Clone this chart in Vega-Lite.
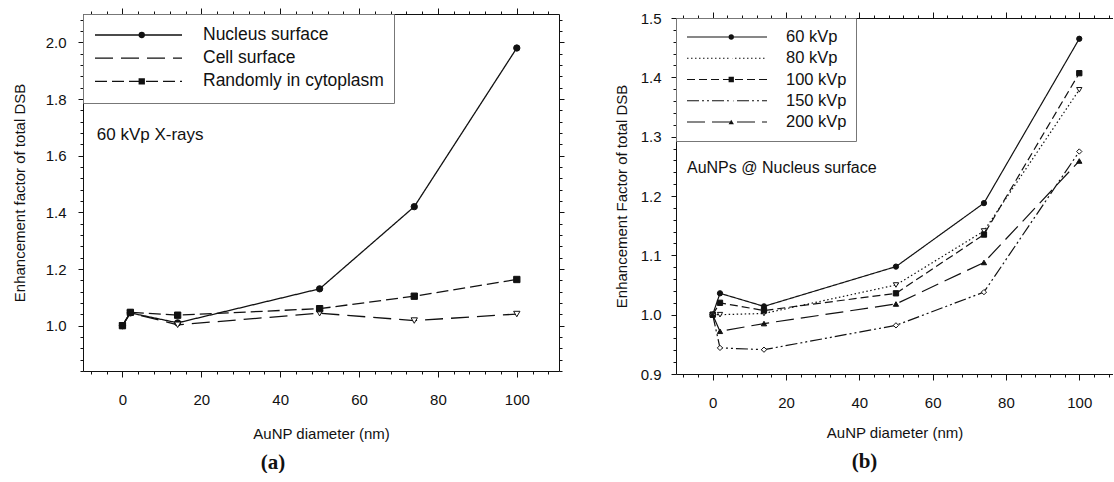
{
  "$schema": "https://vega.github.io/schema/vega-lite/v6.json",
  "background": "white",
  "padding": {"left": 12, "top": 7, "right": 0, "bottom": 0},
  "spacing": 49,
  "resolve": {
    "scale": {"strokeDash": "independent", "shape": "independent", "fill": "independent"},
    "legend": {"strokeDash": "independent", "shape": "independent", "fill": "independent"}
  },
  "config": {
    "view": {"stroke": null},
    "font": "Liberation Sans",
    "axis": {"grid": false, "domainColor": "#111", "tickColor": "#111", "domainWidth": 1, "tickWidth": 1, "labelColor": "#111", "titleColor": "#111", "labelFontSize": 15, "titleFontSize": 15, "titleFontWeight": "normal", "labelFont": "Liberation Sans", "titleFont": "Liberation Sans"},
    "legend": {"labelLimit": 400},
    "title": {"font": "Liberation Serif", "fontSize": 21, "fontWeight": "bold", "color": "#111"}
  },
  "datasets": {
    "a": [
      {"series": "Nucleus surface", "x": 0, "y": 1.0},
      {"series": "Nucleus surface", "x": 2, "y": 1.045},
      {"series": "Nucleus surface", "x": 14, "y": 1.01},
      {"series": "Nucleus surface", "x": 50, "y": 1.13},
      {"series": "Nucleus surface", "x": 74, "y": 1.42},
      {"series": "Nucleus surface", "x": 100, "y": 1.98},
      {"series": "Cell surface", "x": 0, "y": 1.0},
      {"series": "Cell surface", "x": 2, "y": 1.045},
      {"series": "Cell surface", "x": 14, "y": 1.003},
      {"series": "Cell surface", "x": 50, "y": 1.044},
      {"series": "Cell surface", "x": 74, "y": 1.018},
      {"series": "Cell surface", "x": 100, "y": 1.041},
      {"series": "Randomly in cytoplasm", "x": 0, "y": 1.0},
      {"series": "Randomly in cytoplasm", "x": 2, "y": 1.047},
      {"series": "Randomly in cytoplasm", "x": 14, "y": 1.037},
      {"series": "Randomly in cytoplasm", "x": 50, "y": 1.06},
      {"series": "Randomly in cytoplasm", "x": 74, "y": 1.104},
      {"series": "Randomly in cytoplasm", "x": 100, "y": 1.163}
    ],
    "b": [
      {"series": "60 kVp", "x": 0, "y": 1.0},
      {"series": "60 kVp", "x": 2, "y": 1.036},
      {"series": "60 kVp", "x": 14, "y": 1.014},
      {"series": "60 kVp", "x": 50, "y": 1.081},
      {"series": "60 kVp", "x": 74, "y": 1.188},
      {"series": "60 kVp", "x": 100, "y": 1.465},
      {"series": "80 kVp", "x": 0, "y": 1.0},
      {"series": "80 kVp", "x": 2, "y": 1.0},
      {"series": "80 kVp", "x": 14, "y": 1.002},
      {"series": "80 kVp", "x": 50, "y": 1.05},
      {"series": "80 kVp", "x": 74, "y": 1.141},
      {"series": "80 kVp", "x": 100, "y": 1.379},
      {"series": "100 kVp", "x": 0, "y": 1.0},
      {"series": "100 kVp", "x": 2, "y": 1.02},
      {"series": "100 kVp", "x": 14, "y": 1.007},
      {"series": "100 kVp", "x": 50, "y": 1.036},
      {"series": "100 kVp", "x": 74, "y": 1.135},
      {"series": "100 kVp", "x": 100, "y": 1.407},
      {"series": "150 kVp", "x": 0, "y": 1.0},
      {"series": "150 kVp", "x": 2, "y": 0.944},
      {"series": "150 kVp", "x": 14, "y": 0.941},
      {"series": "150 kVp", "x": 50, "y": 0.982},
      {"series": "150 kVp", "x": 74, "y": 1.038},
      {"series": "150 kVp", "x": 100, "y": 1.275},
      {"series": "200 kVp", "x": 0, "y": 1.0},
      {"series": "200 kVp", "x": 2, "y": 0.972},
      {"series": "200 kVp", "x": 14, "y": 0.985},
      {"series": "200 kVp", "x": 50, "y": 1.018},
      {"series": "200 kVp", "x": 74, "y": 1.088},
      {"series": "200 kVp", "x": 100, "y": 1.259}
    ],
    "notesA": [{"x": -6.5, "y": 1.673, "text": "60 kVp X-rays"}],
    "notesB": [{"x": -7.0, "y": 1.247, "text": "AuNPs @ Nucleus surface"}],
    "spacer": [{"k": 1}]
  },
  "hconcat": [
    {
      "width": 476,
      "height": 357,
      "title": {"text": "(a)", "orient": "bottom", "dx": -48, "offset": 11},
      "resolve": {"axis": {"x": "independent", "y": "independent"}},
      "layer": [
        {
          "data": {"name": "a"},
          "mark": {"type": "line", "strokeWidth": 1.3, "color": "#111"},
          "encoding": {
            "x": {"field": "x", "type": "quantitative", "scale": {"domain": [-10, 110.7], "nice": false, "zero": false},
              "axis": {"orient": "bottom", "title": "AuNP diameter (nm)", "values": [-8,-4,0,4,8,12,16,20,24,28,32,36,40,44,48,52,56,60,64,68,72,76,80,84,88,92,96,100,104,108],
                "labelExpr": "datum.value % 20 === 0 ? datum.label : ''", "tickSize": {"condition": {"test": "datum.value % 20 === 0", "value": 6}, "value": 3}, "labelPadding": 15, "titlePadding": 19, "labelOverlap": false}},
            "y": {"field": "y", "type": "quantitative", "scale": {"domain": [0.84, 2.1], "nice": false, "zero": false},
              "axis": {"orient": "left", "title": "Enhancement factor of total DSB", "format": ".1f", "values": [0.84,0.88,0.92,0.96,1.0,1.04,1.08,1.12,1.16,1.2,1.24,1.28,1.32,1.36,1.4,1.44,1.48,1.52,1.56,1.6,1.64,1.68,1.72,1.76,1.8,1.84,1.88,1.92,1.96,2.0,2.04,2.08],
                "labelExpr": "abs(datum.value*5 - round(datum.value*5)) < 0.000001 ? datum.label : ''", "tickSize": {"condition": {"test": "abs(datum.value*5 - round(datum.value*5)) < 0.000001", "value": 5}, "value": 3}, "labelPadding": 12, "titlePadding": 18, "labelOverlap": false}},
            "strokeDash": {"field": "series", "type": "nominal", "sort": ["Nucleus surface", "Cell surface", "Randomly in cytoplasm"],
              "scale": {"range": [[1, 0], [18, 8], [12, 5]]},
              "legend": {"orient": "none", "legendX": 0, "legendY": 0, "title": null, "symbolType": "stroke", "symbolSize": 7569, "symbolStrokeWidth": 1.3, "symbolStrokeColor": "#111", "clipHeight": 22, "rowPadding": 1.2, "padding": 10, "symbolOffset": 1, "labelOffset": 20, "labelFontSize": 17.5, "labelColor": "#111", "strokeColor": "#777", "labelLimit": 400}}
          }
        },
        {
          "data": {"name": "a"},
          "mark": {"type": "point", "filled": true, "stroke": "#111", "strokeWidth": 1, "opacity": 1, "size": 40},
          "encoding": {
            "x": {"field": "x", "type": "quantitative", "scale": {"domain": [-10, 110.7], "nice": false, "zero": false},
              "axis": {"orient": "top", "title": null, "labels": false, "values": [-8,-4,0,4,8,12,16,20,24,28,32,36,40,44,48,52,56,60,64,68,72,76,80,84,88,92,96,100,104,108],
                "tickSize": {"condition": {"test": "datum.value % 20 === 0", "value": 6}, "value": 3}}},
            "y": {"field": "y", "type": "quantitative", "scale": {"domain": [0.84, 2.1], "nice": false, "zero": false},
              "axis": {"orient": "right", "title": null, "labels": false, "values": [0.84,0.88,0.92,0.96,1.0,1.04,1.08,1.12,1.16,1.2,1.24,1.28,1.32,1.36,1.4,1.44,1.48,1.52,1.56,1.6,1.64,1.68,1.72,1.76,1.8,1.84,1.88,1.92,1.96,2.0,2.04,2.08],
                "tickSize": {"condition": {"test": "abs(datum.value*5 - round(datum.value*5)) < 0.000001", "value": 5}, "value": 3}}},
            "shape": {"field": "series", "type": "nominal", "scale": {"domain": ["Nucleus surface", "Cell surface", "Randomly in cytoplasm"], "range": ["circle", "triangle-down", "square"]},
              "legend": {"orient": "none", "legendX": 0, "legendY": 0, "title": null, "symbolSize": 40, "symbolStrokeWidth": 1, "symbolStrokeColor": "#111", "clipHeight": 22, "rowPadding": 1.2, "padding": 10, "symbolOffset": 40, "labelExpr": "''", "labelFontSize": 17.5}},
            "fill": {"field": "series", "type": "nominal", "scale": {"domain": ["Nucleus surface", "Cell surface", "Randomly in cytoplasm"], "range": ["#111", "white", "#111"]},
              "legend": {"orient": "none", "legendX": 0, "legendY": 0, "title": null, "symbolSize": 40, "symbolStrokeWidth": 1, "symbolStrokeColor": "#111", "clipHeight": 22, "rowPadding": 1.2, "padding": 10, "symbolOffset": 40, "labelExpr": "''", "labelFontSize": 17.5}}
          }
        },
        {
          "data": {"name": "notesA"},
          "mark": {"type": "text", "align": "left", "baseline": "middle", "fontSize": 17, "color": "#111"},
          "encoding": {
            "x": {"field": "x", "type": "quantitative", "axis": null},
            "y": {"field": "y", "type": "quantitative", "axis": null},
            "text": {"field": "text"}
          }
        }
      ]
    },
    {
      "spacing": -7,
      "resolve": {
        "scale": {"strokeDash": "independent", "shape": "independent", "fill": "independent"},
        "legend": {"strokeDash": "independent", "shape": "independent", "fill": "independent"}
      },
      "vconcat": [
        {
          "width": 437,
          "height": 1,
          "data": {"name": "spacer"},
          "mark": {"type": "point", "opacity": 0},
          "encoding": {}
        },
        {
          "width": 437,
          "height": 356,
          "title": {"text": "(b)", "orient": "bottom", "dx": -30, "offset": 11},
          "resolve": {"axis": {"x": "independent", "y": "independent"}},
          "layer": [
            {
              "data": {"name": "b"},
              "mark": {"type": "line", "strokeWidth": 1.2, "color": "#111"},
              "encoding": {
                "x": {"field": "x", "type": "quantitative", "scale": {"domain": [-10, 109.2], "nice": false, "zero": false},
                  "axis": {"orient": "bottom", "title": "AuNP diameter (nm)", "values": [-8,-4,0,4,8,12,16,20,24,28,32,36,40,44,48,52,56,60,64,68,72,76,80,84,88,92,96,100,104,108],
                    "labelExpr": "datum.value % 20 === 0 ? datum.label : ''", "tickSize": {"condition": {"test": "datum.value % 20 === 0", "value": 6}, "value": 3}, "labelPadding": 15, "titlePadding": 15, "labelOverlap": false}},
                "y": {"field": "y", "type": "quantitative", "scale": {"domain": [0.9, 1.5], "nice": false, "zero": false},
                  "axis": {"orient": "left", "title": "Enhancement Factor of total DSB", "format": ".1f", "values": [0.9,0.92,0.94,0.96,0.98,1.0,1.02,1.04,1.06,1.08,1.1,1.12,1.14,1.16,1.18,1.2,1.22,1.24,1.26,1.28,1.3,1.32,1.34,1.36,1.38,1.4,1.42,1.44,1.46,1.48,1.5],
                    "labelExpr": "abs(datum.value*10 - round(datum.value*10)) < 0.000001 ? datum.label : ''", "tickSize": {"condition": {"test": "abs(datum.value*10 - round(datum.value*10)) < 0.000001", "value": 5}, "value": 3}, "labelPadding": 10, "titlePadding": 11, "labelOverlap": false}},
                "strokeDash": {"field": "series", "type": "nominal", "sort": ["60 kVp", "80 kVp", "100 kVp", "150 kVp", "200 kVp"],
                  "scale": {"range": [[1, 0], [1.5, 2.5], [8, 4], [12, 3, 2, 3, 2, 3], [18, 7]]},
                  "legend": {"orient": "none", "legendX": 0, "legendY": 0, "title": null, "symbolType": "stroke", "symbolSize": 6400, "symbolStrokeWidth": 1.2, "symbolStrokeColor": "#111", "clipHeight": 20, "rowPadding": 1.25, "padding": 9, "symbolOffset": 1, "labelOffset": 18, "labelFontSize": 16.5, "labelColor": "#111", "strokeColor": "#777", "labelLimit": 400}}
              }
            },
            {
              "data": {"name": "b"},
              "mark": {"type": "point", "filled": true, "stroke": "#111", "strokeWidth": 1, "opacity": 1, "size": 28},
              "encoding": {
                "x": {"field": "x", "type": "quantitative", "scale": {"domain": [-10, 109.2], "nice": false, "zero": false},
                  "axis": {"orient": "top", "title": null, "labels": false, "values": [-8,-4,0,4,8,12,16,20,24,28,32,36,40,44,48,52,56,60,64,68,72,76,80,84,88,92,96,100,104,108],
                    "tickSize": {"condition": {"test": "datum.value % 20 === 0", "value": 6}, "value": 3}}},
                "y": {"field": "y", "type": "quantitative", "scale": {"domain": [0.9, 1.5], "nice": false, "zero": false}, "axis": null},
                "shape": {"field": "series", "type": "nominal", "scale": {"domain": ["60 kVp", "80 kVp", "100 kVp", "150 kVp", "200 kVp"], "range": ["circle", "triangle-down", "square", "diamond", "triangle-up"]},
                  "legend": {"orient": "none", "legendX": 0, "legendY": 0, "title": null, "symbolSize": 28, "symbolStrokeWidth": 1, "symbolStrokeColor": "#111", "clipHeight": 20, "rowPadding": 1.25, "padding": 9, "symbolOffset": 38, "labelExpr": "''", "labelFontSize": 16.5}},
                "fill": {"field": "series", "type": "nominal", "scale": {"domain": ["60 kVp", "80 kVp", "100 kVp", "150 kVp", "200 kVp"], "range": ["#111", "white", "#111", "white", "#111"]},
                  "legend": {"orient": "none", "legendX": 0, "legendY": 0, "title": null, "symbolSize": 28, "symbolStrokeWidth": 1, "symbolStrokeColor": "#111", "clipHeight": 20, "rowPadding": 1.25, "padding": 9, "symbolOffset": 38, "labelExpr": "''", "labelFontSize": 16.5}}
              }
            },
            {
              "data": {"name": "notesB"},
              "mark": {"type": "text", "align": "left", "baseline": "middle", "fontSize": 16, "color": "#111"},
              "encoding": {
                "x": {"field": "x", "type": "quantitative", "axis": null},
                "y": {"field": "y", "type": "quantitative", "axis": null},
                "text": {"field": "text"}
              }
            }
          ]
        }
      ]
    }
  ]
}
